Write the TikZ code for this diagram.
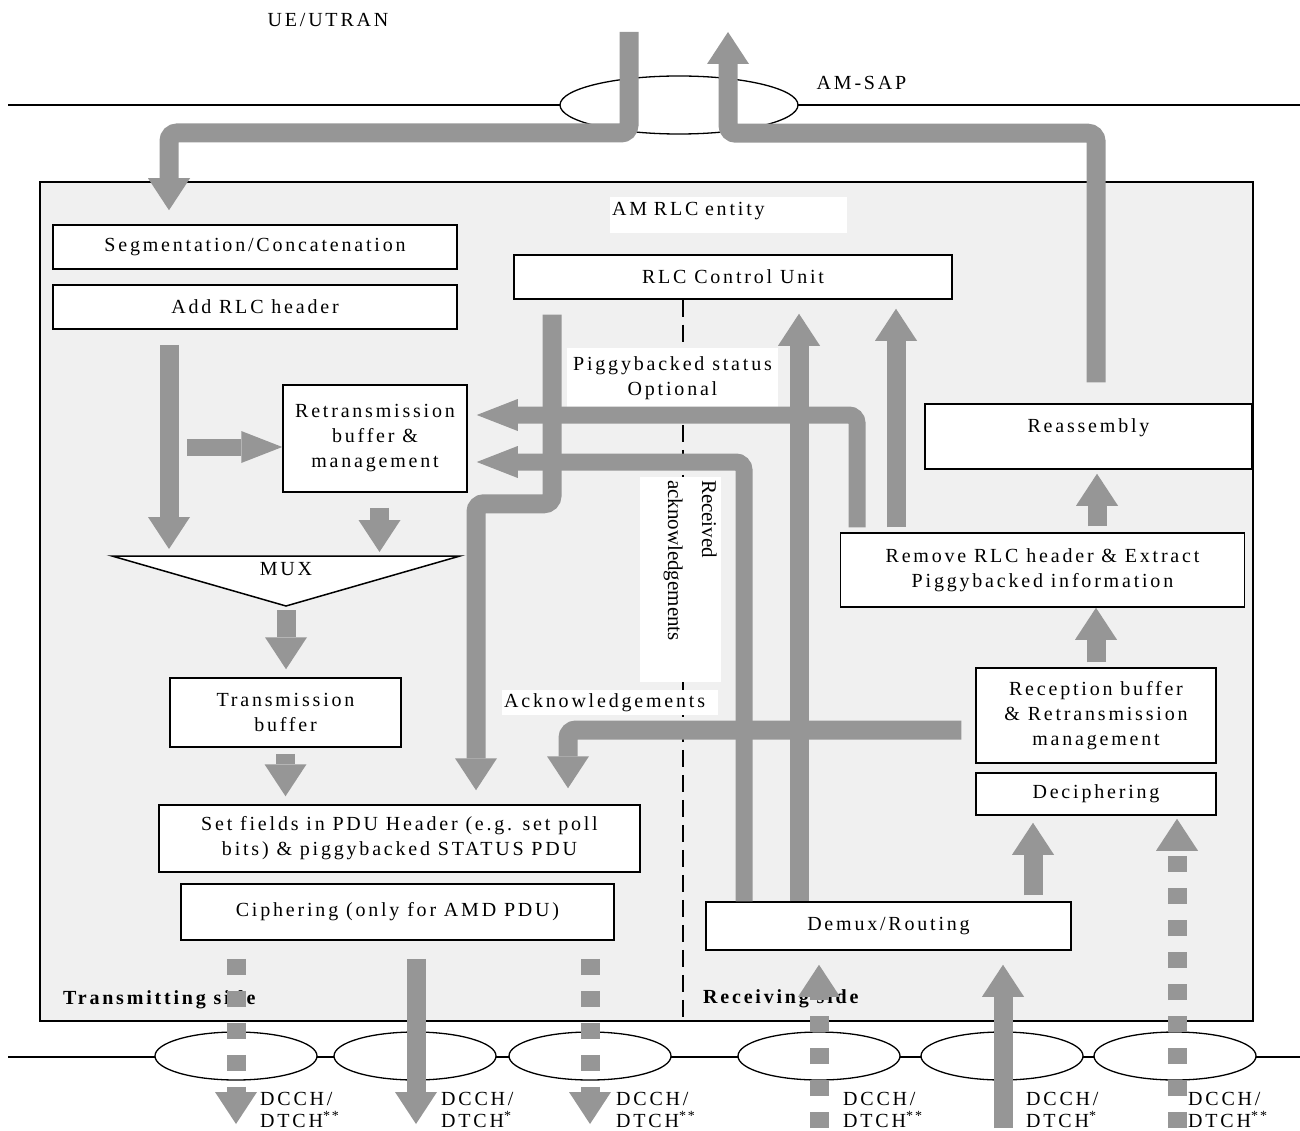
\documentclass[tikz,border=0pt]{standalone}
\usepackage{fontspec}
\setmainfont{Liberation Serif}[LetterSpace=14]
\newfontfamily\plainserif{Liberation Serif}
\usetikzlibrary{positioning, shapes.geometric, arrows.meta}
\definecolor{flowgray}{RGB}{150,150,150}
\definecolor{entitygray}{RGB}{240,240,240}

\begin{document}
\begin{tikzpicture}[
  x=1pt, y=-1pt,
  every node/.style={font=\fontsize{20}{25}\selectfont},
  box/.style={rectangle, draw=black, line width=1.5pt, fill=white, align=center, inner sep=2pt},
  note/.style={rectangle, fill=white, inner sep=2pt, align=center},
  chan/.style={ellipse, draw=black, line width=1.3pt, fill=white, minimum width=162pt, minimum height=48pt, inner sep=0pt},
  bigarrow/.style={draw=flowgray, line width=19pt, rounded corners=8pt, -{Triangle[length=32pt, width=42pt, line width=0pt]}},
  sidearrow/.style={draw=flowgray, line width=17pt, rounded corners=8pt, -{Triangle[length=41pt, width=32pt, line width=0pt]}},
  dashedarrow/.style={bigarrow, dash pattern=on 16pt off 16pt},
  chlabel/.style={anchor=west, align=left, inner sep=0pt, font=\fontsize{20}{22}\selectfont}
]
\useasboundingbox (0,0) rectangle (1300,1131);

% --- ENTITY, SAP AND CHANNELS ---

% Draw the AM RLC entity frame
\node[rectangle, draw=black, line width=1.5pt, fill=entitygray, minimum width=1213pt, minimum height=839pt] (entity) at (646.5,601.5) {};

% Draw the AM-SAP on the upper boundary
\draw[line width=1.3pt] (8,105) -- (1300,105);
\node[chan, minimum width=238pt, minimum height=58pt] (sap) at (679,105) {};
\node (uetext) at (328,20) {UE/UTRAN};
\node (saptext) at (861.5,83) {AM-SAP};

% Draw the logical channels on the lower boundary
\draw[line width=1.3pt] (8,1057) -- (1300,1057);
\foreach \x [count=\i] in {236,415,590,819,1002,1175} {
  \node[chan] (ch\i) at (\x,1056) {};
}

% Draw the RLC control unit and the dashed divider
\node[box, minimum width=438pt, minimum height=44pt] (ctrl) at (733,277) {RLC Control Unit};
\draw[line width=2.5pt, dash pattern=on 17pt off 8pt] ([xshift=-50pt]ctrl.south) -- ([xshift=-50pt]ctrl.south |- entity.south);

% Draw the white text labels
\node[note, anchor=north west, minimum height=36pt, text width=233pt, align=left, text depth=12pt] (amlabel) at (610,197) {AM RLC entity};
\node[note, minimum width=211pt, minimum height=60pt] (piglabel) at (672.5,378) {Piggybacked status\\Optional};
\node[note, rotate=-90, minimum width=205pt, minimum height=81pt, text width=199pt, text depth=58pt, align=left, font=\plainserif\fontsize{21}{34}\selectfont] (rxacklabel) at (680.5,579.5) {Received\\acknowledgements};
\node[note, anchor=west, minimum height=25pt, text width=212pt, align=left, inner ysep=0pt] (acklabel) at (502,702.5) {Acknowledgements};

% --- TRANSMITTING SIDE ---

\node[box, minimum width=404pt, minimum height=44pt] (seg) at (255,247) {Segmentation/Concatenation};
\node[box, minimum width=404pt, minimum height=44pt] (addhdr) at (255,307) {Add RLC header};
\node[box, minimum width=184pt, minimum height=107pt] (retx) at (375,438.5) {Retransmission\\buffer \&\\management};
\draw[line width=1.5pt, fill=white] (112,556) coordinate (muxl) -- (460,556) coordinate (muxr) -- (286,606) coordinate (muxb) -- cycle;
\node (mux) at (286,569) {MUX};
\node[box, minimum width=231pt, minimum height=69pt] (txbuf) at (285.5,712.5) {Transmission\\buffer};
\node[box, minimum width=481pt, minimum height=67pt] (setf) at (399.5,838.5) {Set fields in PDU Header (e.g. set poll\\bits) \& piggybacked STATUS PDU};
\node[box, minimum width=433pt, minimum height=56pt] (ciph) at (397.5,912) {Ciphering (only for AMD PDU)};
\node[anchor=west, inner sep=0pt, font=\bfseries\fontsize{20}{25}\selectfont] (txside) at (63,1000) {Transmitting side};

% --- RECEIVING SIDE ---

\node[box, minimum width=365pt, minimum height=48pt] (demux) at (888.5,926) {Demux/Routing};
\node[box, minimum width=240pt, minimum height=42pt] (deciph) at (1096,794) {Deciphering};
\node[box, minimum width=240pt, minimum height=95pt] (recbuf) at (1096,715.5) {Reception buffer\\\& Retransmission\\management};
\node[box, minimum width=404pt, minimum height=74pt] (remhdr) at (1042.5,570) {Remove RLC header \& Extract\\Piggybacked information};
\node[box, minimum width=327pt, minimum height=65pt, text height=14pt, text depth=23pt] (reasm) at (1088.5,436.5) {Reassembly};
\node[anchor=west, inner sep=0pt, font=\bfseries\fontsize{20}{25}\selectfont] (rxside) at (703,999) {Receiving side};

% --- DATA FLOWS ---

% SAP in and out
\coordinate (sapin) at (629,32);
\coordinate (sapout) at (728,32);
\draw[bigarrow, shorten >=14pt] (sapin) -- ++(0,101) -| ([xshift=-86pt]seg.north);
\draw[bigarrow, shorten <=21pt] ([xshift=7.5pt]reasm.north) -- ++(0,-270) -| (sapout);

% Transmitting chain
\draw[bigarrow, shorten <=15pt, shorten >=7pt] ([xshift=-86pt]addhdr.south) -- ([xshift=-86pt]addhdr.south |- muxl);
\coordinate (retxin) at (187,447);
\draw[sidearrow] (retxin) -- (retxin -| retx.west);
\draw[bigarrow, shorten <=15pt, shorten >=4pt] ([xshift=4.5pt]retx.south) -- ([xshift=4.5pt]retx.south |- muxr);
\draw[bigarrow, shorten <=4pt, shorten >=8pt] (muxb) -- (muxb |- txbuf.north);
\draw[bigarrow, shorten <=6pt, shorten >=8pt] (txbuf.south) -- (txbuf.south |- setf.north);
\draw[bigarrow, shorten <=15pt, shorten >=14pt] ([xshift=-181pt]ctrl.south) -- ++(0,204) -| ([xshift=76.5pt]setf.north);

% Status and acknowledgements
\draw[sidearrow, shorten <=5pt, shorten >=9pt] ([xshift=-185.5pt]remhdr.north) |- ([yshift=23.5pt]retx.east);
\draw[sidearrow, shorten >=9pt] ([xshift=-144.5pt]demux.north) |- ([yshift=-23.5pt]retx.east);
\draw[bigarrow, shorten >=14pt] ([xshift=-89.5pt]demux.north) -- ([xshift=-89.5pt]demux.north |- ctrl.south);
\draw[bigarrow, shorten <=5pt, shorten >=9pt] ([xshift=-146.5pt]remhdr.north) -- ([xshift=-146.5pt]remhdr.north |- ctrl.south);
\draw[bigarrow, shorten <=14pt, shorten >=16pt] ([yshift=-14.5pt]recbuf.west) -| ([xshift=168.5pt]setf.north);

% Receiving chain
\draw[bigarrow, shorten <=5pt] (recbuf.north) -- (recbuf.north |- remhdr.south);
\draw[bigarrow, shorten <=6pt, shorten >=4pt] ([xshift=54.5pt]remhdr.north) -- ([xshift=54.5pt]remhdr.north |- reasm.south);
\draw[bigarrow, shorten <=6pt, shorten >=7pt] ([xshift=144.5pt]demux.north) -- ([xshift=144.5pt]demux.north |- deciph.south);

% Logical channels down and up
\coordinate (chbot) at (0,1124);
\coordinate (chfoot) at (0,1128);
\foreach \dx/\kind in {-161.5/dashedarrow, 18.5/bigarrow, 192.5/dashedarrow} {
  \draw[\kind, shorten <=18pt] ([xshift=\dx pt]ciph.south) -- ([xshift=\dx pt]ciph.south |- chbot);
}
\foreach \dx/\kind in {-69.5/dashedarrow, 114.5/bigarrow} {
  \draw[\kind, shorten >=14pt] ([xshift=\dx pt]demux.south |- chfoot) -- ([xshift=\dx pt]demux.south);
}
\draw[dashedarrow, shorten >=3pt] ([xshift=81pt]deciph.south |- chfoot) -- ([xshift=81pt]deciph.south);

% Channel labels
\foreach \x/\stars [count=\i] in {260/**, 441/*, 616/**, 843/**, 1026/*, 1188/**} {
  \node[chlabel] (chl\i) at (\x,1110) {DCCH/\\DTCH\textsuperscript{\stars}};
}

\end{tikzpicture}
\end{document}
